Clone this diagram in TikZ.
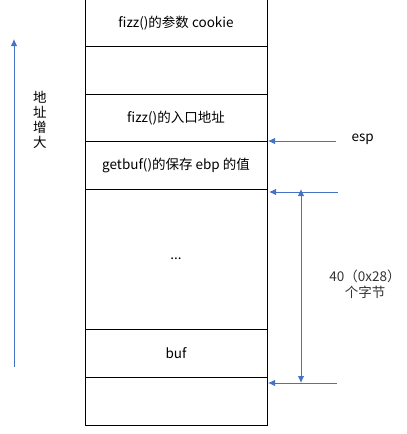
\documentclass[tikz,border=0pt]{standalone}
\usepackage{fontspec}
\setmainfont{Noto Sans CJK SC}
\usetikzlibrary{arrows.meta}
\definecolor{arrowblue}{HTML}{4472C4}
\definecolor{labelgray}{HTML}{333333}

\begin{document}
\begin{tikzpicture}[x=1pt,y=-1pt,
    cell/.style={font=\fontsize{13.5}{16}\selectfont},
    ptr/.style={draw=arrowblue,line width=0.9pt,-{Latex[length=7pt,width=6.5pt]}}]
          \useasboundingbox (0,0) rectangle (407,434);
          % stack frame
          \draw [line width=0.9pt] (85,-2) -- (85,425) -- (267,425) -- (267,-2);
          \foreach \y in {46,94,141,189,329,377}
            \draw [line width=0.9pt] (85,\y) -- (267,\y);
          \node [cell] (cookie) at (176,23) {fizz()的参数 cookie};
          \node [cell] (entry) at (176,118) {fizz()的入口地址};
          \node [cell] (ebp) at (176,165) {getbuf()的保存 ebp 的值};
          \node [cell] (dots) at (176,259) {...};
          \node [cell] (buf) at (176,353) {buf};
          % address direction
          \coordinate (low) at (14,367);
          \coordinate (high) at (14,39);
          \draw [ptr] (low) -- (high);
          \node [cell,align=center,text width=1em,
            font=\fontsize{13.5}{15}\selectfont] (dir) at (38,120) {地\\址\\增\\大};
          % esp
          \coordinate (espfrom) at (336,141);
          \coordinate (esptip) at (268,141);
          \draw [ptr] (espfrom) -- (esptip);
          \node [cell,anchor=west] (esp) at (348,139) {esp};
          % 40 bytes
          \coordinate (topfrom) at (338,192);
          \coordinate (toptip) at (269,192);
          \coordinate (botfrom) at (337,383);
          \coordinate (bottip) at (268,383);
          \draw [ptr] (topfrom) -- (toptip);
          \draw [ptr] (botfrom) -- (bottip);
          \coordinate (spanmid) at (301,280);
          \draw [ptr] (spanmid) -- (301,189);
          \draw [ptr] (spanmid) -- (301,383);
          \node [cell,text=labelgray,align=center] (size) at (365,284) {40（0x28）\\个字节};
        \end{tikzpicture}
\end{document}
